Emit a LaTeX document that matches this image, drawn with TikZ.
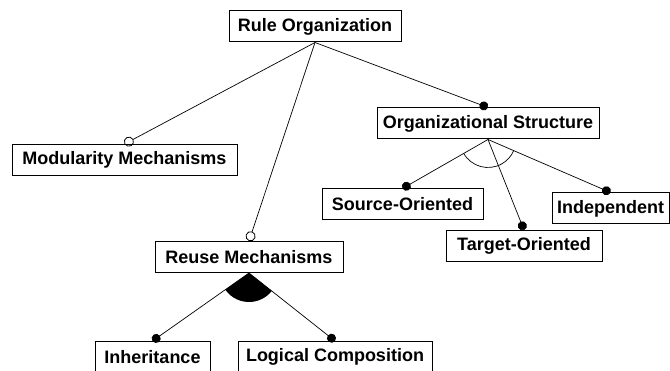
\documentclass[tikz,border=0pt]{standalone}
\usepackage{fontspec}
\setmainfont{Liberation Sans}
\usetikzlibrary{arrows.meta,calc}

\begin{document}
\begin{tikzpicture}[x=1pt,y=1pt,
			feature/.style={draw,line width=1pt,inner sep=0pt,minimum height=31pt,
				font=\bfseries\fontsize{18}{20}\selectfont},
			mand/.style={line width=.7pt,-{Circle[length=9pt]}},
			opt/.style={line width=.7pt,-{Circle[open,length=10pt,width=10pt,line width=.8pt]}}]
			\useasboundingbox (0,0) rectangle (670,-371);
			\node[feature,minimum width=172pt] (rule) at (315,-26.5) {Rule Organization};
			\node[feature,minimum width=225pt] (modul) at (124.5,-160) {Modularity Mechanisms};
			\node[feature,minimum width=222pt] (orgstr) at (488,-123.5) {Organizational Structure};
			\node[feature,minimum width=161pt] (source) at (402.5,-204.5) {Source-Oriented};
			\node[feature,minimum width=156pt] (target) at (524,-246) {Target-Oriented};
			\node[feature,minimum width=117pt] (indep) at (610.5,-208.5) {Independent};
			\node[feature,minimum width=188pt] (reuse) at (249,-257) {Reuse Mechanisms};
			\node[feature,minimum width=115pt] (inher) at (152.5,-357) {Inheritance};
			\node[feature,minimum width=194pt] (logic) at (335,-357) {Logical Composition};
			% feature edges
			\draw[opt] (rule.south) -- (modul.north);
			\draw[opt] (rule.south) -- (reuse.north);
			\draw[mand] (rule.south) -- (orgstr.north);
			\draw[mand] (orgstr.south) -- (source.north);
			\draw[mand] (orgstr.south) -- (target.north);
			\draw[mand] (orgstr.south) -- (indep.north);
			\draw[mand] (reuse.south) -- (inher.north);
			\draw[mand] (reuse.south) -- (logic.north);
			% alternative and or groups
			\draw[line width=.7pt] let \p1=($(source.north)-(orgstr.south)$), \p2=($(indep.north)-(orgstr.south)$),
				\n1={atan2(\y1,\x1)+360}, \n2={atan2(\y2,\x2)+360} in
				(orgstr.south) ++(\n1:28pt) arc[start angle=\n1,end angle=\n2,radius=28pt];
			\fill let \p1=($(inher.north)-(reuse.south)$), \p2=($(logic.north)-(reuse.south)$),
				\n1={atan2(\y1,\x1)+360}, \n2={atan2(\y2,\x2)+360} in
				(reuse.south) -- ++(\n1:29pt) arc[start angle=\n1,end angle=\n2,radius=29pt] -- cycle;
		\end{tikzpicture}
\end{document}
